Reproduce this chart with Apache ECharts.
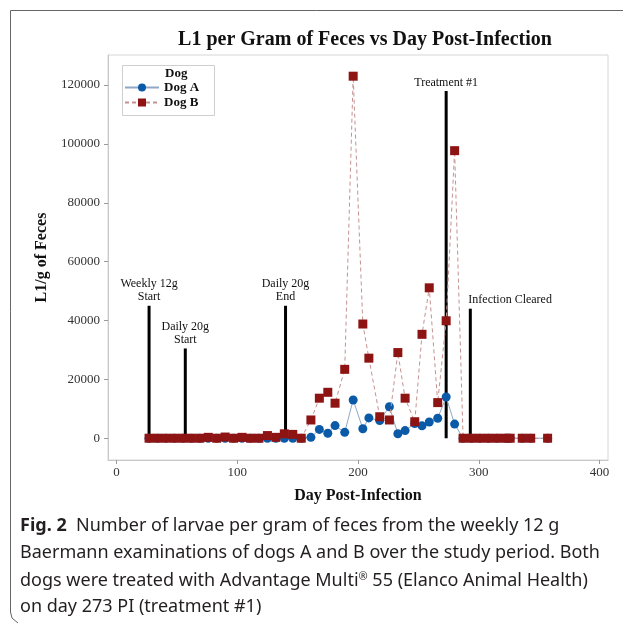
<!DOCTYPE html>
<html>
<head>
<meta charset="utf-8">
<script src="https://cdn.jsdelivr.net/npm/echarts@6/dist/echarts.min.js"></script>
<style>
  html, body { margin: 0; padding: 0; background: #fff; }
  #chart { width: 623px; height: 624px; }
</style>
</head>
<body>
<div id="chart"></div>
<script>
// sampling days (weekly 12 g Baermann)
const sampleDays = [27, 34, 41, 48, 55, 62, 69, 76, 83, 90, 97, 104, 111, 118, 125, 132, 139, 146, 153,
  161, 168, 175, 181, 189, 196, 204, 209, 218, 226, 233, 239, 247, 253, 259, 266, 273, 280, 287,
  294, 301, 308, 315, 322, 326, 336, 343, 357]

const dogA = [0, 0, 0, 0, 0, 0, 0, 0, 0, 0, 0, 0, 0, 0, 0, 0, 0, 0, 0,
  300, 3000, 1700, 4300, 2000, 13000, 3200, 6900, 6000, 10700, 1500, 2600, 5000, 4200, 5500, 6800, 14000, 4800, 0,
  0, 0, 0, 0, 0, 0, 0, 0, 0]

const dogB = [0, 0, 0, 0, 0, 0, 0, 300, 0, 400, 0, 300, 0, 0, 900, 300, 1500, 1300, 0,
  6200, 13600, 15600, 11900, 23400, 123000, 38800, 27200, 7300, 6200, 29100, 13600, 5600, 35300, 51100, 12100, 39900, 97700, 0,
  0, 0, 0, 0, 0, 0, 0, 0, 0]

// event markers
const noteDays = [27, 57, 140, 273, 293]
const noteTops = [45000, 30500, 45000, 118000, 44000]
const noteLabels = ['Weekly 12g\nStart', 'Daily 20g\nStart', 'Daily 20g\nEnd', 'Treatment #1', 'Infection Cleared']

const xTicks = [0, 100, 200, 300, 400]
const yTicks = [0, 20000, 40000, 60000, 80000, 100000, 120000]

const serif = 'Liberation Serif'
const capFont = '18px "Noto Sans"'
const chart = echarts.init(document.getElementById('chart'))

chart.setOption({
  backgroundColor: '#fff',
  animation: false,
  title: {
    text: 'L1 per Gram of Feces vs Day Post-Infection',
    left: 360,
    top: 25,
    textAlign: 'center',
    textStyle: { fontFamily: serif, fontSize: 20, fontWeight: 'bold', color: '#111' }
  },
  grid: {
    left: 108,
    right: 15,
    top: 55,
    bottom: 164,
    show: true,
    borderColor: '#d6d6d6',
    borderWidth: 1
  },
  legend: {
    orient: 'vertical',
    left: 124,
    top: 81,
    itemWidth: 34,
    itemHeight: 10,
    itemGap: 2,
    padding: 0,
    data: ['Dog A', 'Dog B'],
    textStyle: { fontFamily: serif, fontSize: 13, fontWeight: 'bold', color: '#111' }
  },
  xAxis: {
    type: 'value',
    min: -7,
    max: 407,
    name: 'Day Post-Infection',
    nameLocation: 'middle',
    nameGap: 28,
    nameTextStyle: { fontFamily: serif, fontSize: 16, fontWeight: 'bold', color: '#111' },
    splitLine: { show: false },
    axisLine: { onZero: false, lineStyle: { color: '#c8c8c8' } },
    axisTick: { customValues: xTicks, length: 4, lineStyle: { color: '#9a9a9a' } },
    axisLabel: { customValues: xTicks, formatter: v => String(v), fontFamily: serif, fontSize: 13, color: '#333', margin: 6 }
  },
  yAxis: {
    type: 'value',
    min: -7400,
    max: 130200,
    name: 'L1/g of Feces',
    nameLocation: 'middle',
    nameGap: 58,
    nameTextStyle: { fontFamily: serif, fontSize: 16, fontWeight: 'bold', color: '#111' },
    splitLine: { show: false },
    axisLine: { onZero: false, lineStyle: { color: '#c8c8c8' } },
    axisTick: { customValues: yTicks, length: 4, lineStyle: { color: '#9a9a9a' } },
    axisLabel: { customValues: yTicks, formatter: v => String(v), fontFamily: serif, fontSize: 13, color: '#333', margin: 8 }
  },
  series: [
    {
      type: 'custom',
      name: 'notes',
      z: 1,
      silent: true,
      data: noteDays.map((d, i) => [d, noteTops[i]]),
      renderItem(params, api) {
        const i = params.dataIndex
        const p0 = api.coord([api.value(0), 0])
        const p1 = api.coord([api.value(0), api.value(1)])
        const leftAligned = i === noteLabels.length - 1
        return {
          type: 'group',
          children: [
            {
              type: 'line',
              shape: { x1: p0[0], y1: p0[1], x2: p1[0], y2: p1[1] },
              style: { stroke: '#000', lineWidth: 3 }
            },
            {
              type: 'text',
              style: {
                text: noteLabels[i],
                x: leftAligned ? p1[0] - 2 : p1[0],
                y: p1[1] - 2,
                align: leftAligned ? 'left' : 'center',
                verticalAlign: 'bottom',
                lineHeight: 13,
                font: '12px "Liberation Serif"',
                fill: '#111'
              }
            }
          ]
        }
      }
    },
    {
      name: 'Dog A',
      type: 'line',
      z: 2,
      data: sampleDays.map((d, i) => [d, dogA[i]]),
      symbol: 'circle',
      symbolSize: 9,
      itemStyle: { color: '#0b5aa8' },
      lineStyle: { color: '#8fa8c6', width: 1 }
    },
    {
      name: 'Dog B',
      type: 'line',
      z: 3,
      data: sampleDays.map((d, i) => [d, dogB[i]]),
      symbol: 'rect',
      symbolSize: 9,
      itemStyle: { color: '#8e1414' },
      lineStyle: { color: '#c59292', width: 1, type: [4, 3] }
    }
  ],
  graphic: [
    // article figure frame
    {
      type: 'polyline',
      silent: true,
      shape: { points: [[623, 10.5], [10.5, 10.5], [10.5, 612], [12, 618], [18, 623]] },
      style: { stroke: '#666', lineWidth: 1, fill: null }
    },
    // legend box
    {
      type: 'rect',
      left: 120,
      top: 63,
      shape: { width: 92, height: 50 },
      style: { fill: null, stroke: '#cfcfcf', lineWidth: 1 },
      z: 10
    },
    {
      type: 'text',
      left: 165,
      top: 67,
      style: { text: 'Dog', font: 'bold 13px "Liberation Serif"', fill: '#111' },
      z: 10
    },
    // caption
    {
      type: 'text',
      left: 20,
      top: 517,
      style: {
        text: '{b|Fig. 2}  Number of larvae per gram of feces from the weekly 12 g',
        font: capFont,
        fill: '#231f20',
        rich: { b: { font: 'bold 18px "Noto Sans"', fill: '#231f20' } }
      }
    },
    {
      type: 'text',
      left: 20,
      top: 544,
      style: {
        text: 'Baermann examinations of dogs A and B over the study period. Both',
        font: capFont,
        fill: '#231f20'
      }
    },
    {
      type: 'text',
      left: 20,
      top: 571,
      style: {
        text: 'dogs were treated with Advantage Multi{s|®} 55 (Elanco Animal Health)',
        font: capFont,
        fill: '#231f20',
        rich: { s: { font: '11px "Noto Sans"', fill: '#231f20', verticalAlign: 'top', padding: [0, 0, 9, 0] } }
      }
    },
    {
      type: 'text',
      left: 20,
      top: 598,
      style: {
        text: 'on day 273 PI (treatment #1)',
        font: capFont,
        fill: '#231f20'
      }
    }
  ]
})
</script>
</body>
</html>
